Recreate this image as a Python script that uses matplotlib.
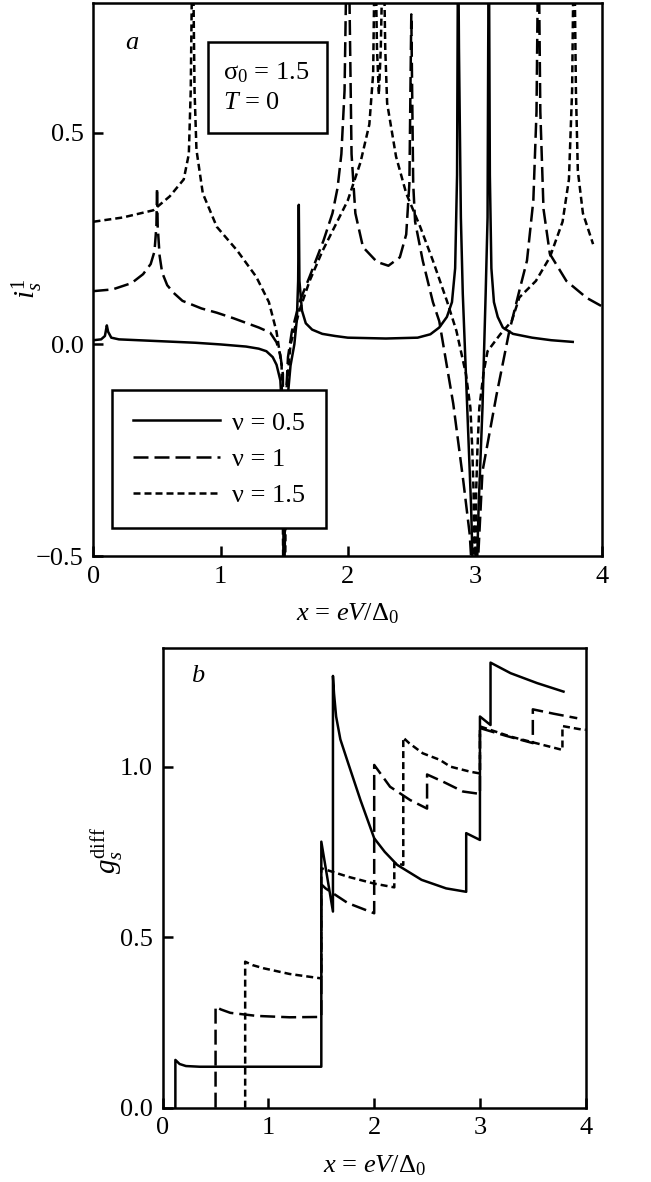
import matplotlib
matplotlib.use("Agg")
import matplotlib.pyplot as plt
from matplotlib.patches import Rectangle
from matplotlib.ticker import FuncFormatter

plt.rcParams['font.family'] = ['Liberation Serif', 'DejaVu Serif']
plt.rcParams['mathtext.fontset'] = 'custom'
plt.rcParams['mathtext.rm'] = 'Liberation Serif'
plt.rcParams['mathtext.it'] = 'Liberation Serif:italic'
plt.rcParams['mathtext.bf'] = 'Liberation Serif:bold'

# ---- panel a: i_s^1 vs x ----
xa_05 = [0.0, 0.06, 0.09, 0.105, 0.115, 0.14, 0.2, 0.5, 0.8, 1.0, 1.2, 1.3, 1.36, 1.41, 1.44, 1.47, 1.49, 1.5,
         1.505, 1.52, 1.55, 1.58, 1.60, 1.61, 1.615, 1.62, 1.64, 1.67, 1.72, 1.8, 1.9, 2.0, 2.3, 2.55, 2.65,
         2.72, 2.78, 2.82, 2.845, 2.86, 2.868, 2.875, 2.89, 2.905, 2.94, 2.97, 2.99, 3.0, 3.01, 3.03, 3.06,
         3.085, 3.10, 3.105, 3.11, 3.118, 3.13, 3.15, 3.18, 3.22, 3.3, 3.45, 3.6, 3.77]
ya_05 = [0.010, 0.012, 0.02, 0.045, 0.03, 0.016, 0.012, 0.008, 0.004, 0.0, -0.005, -0.01, -0.016, -0.03, -0.048,
         -0.085, -0.2, -0.8,
         -0.4, -0.15, -0.05, 0.0, 0.06, 0.15, 0.33, 0.15, 0.08, 0.05, 0.035, 0.025, 0.02, 0.016, 0.014, 0.016,
         0.024, 0.04, 0.065, 0.1, 0.18, 0.4, 1.0, 0.7, 0.3, 0.12, -0.15, -0.38, -0.6, -0.8, -0.6, -0.38, -0.15,
         0.12, 0.3, 0.7, 1.0, 0.4, 0.18, 0.1, 0.065, 0.04, 0.025, 0.016, 0.01, 0.006]

xa_1 = [0.0, 0.15, 0.3, 0.39, 0.45, 0.48, 0.495, 0.5, 0.505, 0.52, 0.54, 0.58, 0.63, 0.7, 0.85, 0.97, 1.1, 1.2,
        1.3, 1.39, 1.44, 1.47, 1.49, 1.5, 1.51, 1.53, 1.56, 1.62, 1.7, 1.81, 1.88, 1.92, 1.95, 1.975, 1.99,
        2.0, 2.01, 2.03, 2.06, 2.12, 2.23, 2.32, 2.41, 2.46, 2.485, 2.5, 2.515, 2.53, 2.59, 2.67, 2.72, 2.83,
        2.91, 2.96, 2.99, 3.0, 3.01, 3.06, 3.17, 3.27, 3.35, 3.41, 3.46, 3.485, 3.5, 3.515, 3.54, 3.59, 3.72,
        3.88, 4.0]
ya_1 = [0.126, 0.13, 0.145, 0.166, 0.19, 0.22, 0.28, 0.37, 0.28, 0.21, 0.17, 0.14, 0.122, 0.103, 0.085, 0.075,
        0.062, 0.051, 0.04, 0.028, 0.005, -0.025, -0.07, -0.8, -0.15, -0.03, 0.03, 0.1, 0.16, 0.246, 0.31,
        0.37, 0.45, 0.6, 0.9, 1.2, 0.9, 0.45, 0.31, 0.23, 0.195, 0.186, 0.206, 0.26, 0.38, 0.78, 0.38, 0.29,
        0.198, 0.1, 0.055, -0.14, -0.325, -0.45, -0.6, -0.8, -0.6, -0.3, -0.12, 0.03, 0.127, 0.198, 0.34,
        0.55, 1.0, 0.55, 0.32, 0.214, 0.15, 0.11, 0.09]

xa_15 = [0.0, 0.23, 0.47, 0.6, 0.71, 0.75, 0.765, 0.78, 0.795, 0.81, 0.86, 0.97, 1.13, 1.28, 1.38, 1.44, 1.48,
         1.5, 1.52, 1.55, 1.62, 1.7, 1.8, 1.9, 2.0, 2.1, 2.17, 2.2, 2.215, 2.23, 2.245, 2.26, 2.28, 2.295,
         2.31, 2.38, 2.46, 2.57, 2.67, 2.78, 2.855, 2.93, 2.965, 2.98, 2.99, 3.0, 3.01, 3.02, 3.035, 3.07,
         3.1, 3.2, 3.29, 3.35, 3.48, 3.59, 3.69, 3.74, 3.765, 3.78, 3.795, 3.81, 3.85, 3.93]
ya_15 = [0.29, 0.30, 0.317, 0.35, 0.39, 0.45, 0.6, 1.0, 0.6, 0.46, 0.357, 0.278, 0.222, 0.16, 0.1, 0.03, -0.05,
         -0.8, -0.1, 0.0, 0.08, 0.15, 0.22, 0.28, 0.34, 0.43, 0.52, 0.64, 1.0, 0.7, 0.59, 0.7, 1.0, 0.7,
         0.57, 0.444, 0.357, 0.278, 0.198, 0.103, 0.032, -0.07, -0.15, -0.25, -0.35, -0.8, -0.35, -0.25,
         -0.15, -0.064, -0.016, 0.024, 0.055, 0.111, 0.15, 0.206, 0.29, 0.39, 0.6, 1.0, 0.6, 0.41, 0.31, 0.237]

# ---- panel b: g_s^diff vs x ----
xb_05 = [0.12, 0.12, 0.16, 0.22, 0.35, 0.8, 1.2, 1.5, 1.5, 1.61, 1.61, 1.62, 1.64, 1.68, 1.754, 1.87, 2.0,
         2.1, 2.217, 2.448, 2.68, 2.87, 2.87, 3.0, 3.0, 3.1, 3.1, 3.29, 3.54, 3.79]
yb_05 = [0.0, 0.14, 0.128, 0.122, 0.12, 0.12, 0.12, 0.12, 0.78, 0.575, 1.266, 1.215, 1.147, 1.08, 1.01, 0.902,
         0.79, 0.75, 0.712, 0.668, 0.643, 0.633, 0.805, 0.785, 1.147, 1.122, 1.305, 1.274, 1.245, 1.22]

xb_1 = [0.5, 0.5, 0.55, 0.64, 0.89, 1.2, 1.5, 1.5, 1.54, 1.75, 2.0, 2.0, 2.15, 2.34, 2.5, 2.5, 2.65, 2.84,
        3.0, 3.0, 3.25, 3.5, 3.5, 3.7, 3.92]
yb_1 = [0.0, 0.296, 0.288, 0.278, 0.269, 0.265, 0.266, 0.655, 0.643, 0.60, 0.57, 1.005, 0.941, 0.902, 0.877,
        0.977, 0.956, 0.927, 0.92, 1.113, 1.09, 1.069, 1.168, 1.155, 1.142]

xb_15 = [0.78, 0.78, 0.85, 0.95, 1.2, 1.5, 1.5, 1.754, 2.0, 2.19, 2.19, 2.275, 2.275, 2.33, 2.46, 2.62, 2.72,
         2.91, 3.0, 3.0, 3.29, 3.78, 3.78, 3.94, 4.0]
yb_15 = [0.0, 0.428, 0.418, 0.409, 0.392, 0.379, 0.702, 0.677, 0.657, 0.646, 0.717, 0.712, 1.085, 1.069, 1.039,
         1.02, 1.0, 0.985, 0.98, 1.118, 1.088, 1.049, 1.119, 1.11, 1.108]

labels = ['ν = 0.5', 'ν = 1', 'ν = 1.5']
styles = ['-', (0, (6, 2.4)), (0, (2.8, 1.6))]
lw = 1.8
fs = 19

fig = plt.figure(figsize=(6.51, 11.82), dpi=100)
ax1 = fig.add_axes([0.1436, 0.5296, 0.7811, 0.4679])
ax2 = fig.add_axes([0.2499, 0.0629, 0.6498, 0.3892])

for xs, ys, ls, lab in zip([xa_05, xa_1, xa_15], [ya_05, ya_1, ya_15], styles, labels):
    ax1.plot(xs, ys, color='black', lw=lw, linestyle=ls, label=lab)
for xs, ys, ls in zip([xb_05, xb_1, xb_15], [yb_05, yb_1, yb_15], styles):
    ax2.plot(xs, ys, color='black', lw=lw, linestyle=ls)

ax1.set_xlim(0, 4)
ax1.set_ylim(-0.5, 0.807)
ax1.set_yticks([-0.5, 0.0, 0.5])
ax2.set_xlim(0, 4)
ax2.set_ylim(0, 1.349)
ax2.set_yticks([0.0, 0.5, 1.0])

fmt = FuncFormatter(lambda v, p: f'{v:.1f}'.replace('-', '\u2212'))

for ax in (ax1, ax2):
    ax.set_xticks([0, 1, 2, 3, 4])
    ax.yaxis.set_major_formatter(fmt)
    ax.tick_params(direction='in', length=7, width=1.8, labelsize=fs, pad=7,
                   top=False, right=False)
    for s in ax.spines.values():
        s.set_linewidth(1.8)
    ax.set_xlabel(r'$x$ = $eV/\Delta_0$', fontsize=fs, labelpad=10)

ax1.set_ylabel(r'$i_s^1$', fontsize=fs + 2)
ax1.yaxis.set_label_coords(-0.095, 0.483)
ax2.set_ylabel(r'$g_s^{\mathrm{diff}}$', fontsize=fs + 2)
ax2.yaxis.set_label_coords(-0.089, 0.56)

ax1.text(0.076, 0.928, 'a', transform=ax1.transAxes, fontsize=fs, style='italic', ha='center', va='center')
ax2.text(0.083, 0.938, 'b', transform=ax2.transAxes, fontsize=fs, style='italic', ha='center', va='center')

ax1.add_patch(Rectangle((0.225, 0.765), 0.234, 0.1645, transform=ax1.transAxes, fill=True,
                        facecolor='white', edgecolor='black', lw=1.8, zorder=4))
ax1.text(0.255, 0.873, r'$\mathrm{\sigma}_0$ = 1.5', transform=ax1.transAxes, fontsize=fs, va='center', zorder=5)
ax1.text(0.255, 0.819, r'$T$ = 0', transform=ax1.transAxes, fontsize=fs, va='center', zorder=5)

leg = ax1.legend(loc='lower left', bbox_to_anchor=(0.036, 0.0506), borderaxespad=0, fontsize=fs,
                 handlelength=3.3, handletextpad=0.45, labelspacing=0.48, borderpad=0.8,
                 fancybox=False, framealpha=1, edgecolor='black')
leg.get_frame().set_linewidth(1.8)

fig.savefig('out.png', dpi=100)
